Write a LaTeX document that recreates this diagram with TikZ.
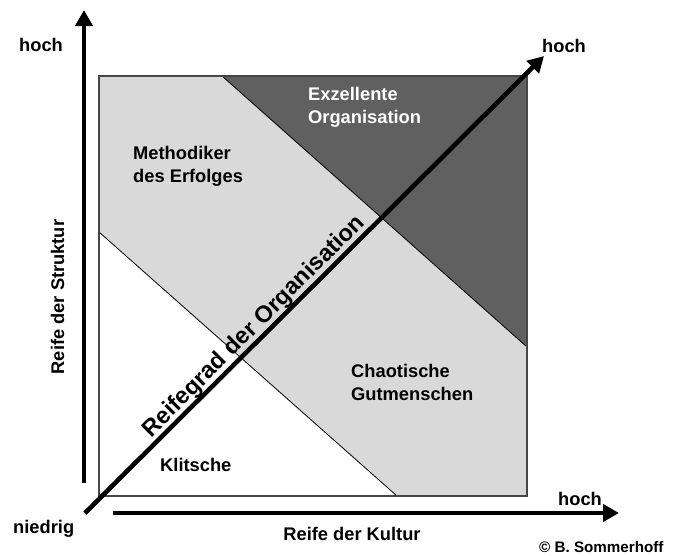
\documentclass[tikz,border=0pt]{standalone}
\usepackage{fontspec}
\setmainfont{Liberation Sans}
\usetikzlibrary{arrows.meta}
\definecolor{lightg}{RGB}{217,217,217}
\definecolor{darkg}{RGB}{96,96,96}
\definecolor{borderg}{RGB}{70,70,70}
\begin{document}
\begin{tikzpicture}[x=1pt,y=-1pt,
  axisarrow/.style={line width=4.6pt,-{Triangle[length=16pt,width=17pt]}},
  divline/.style={line width=0.8pt,black},
  frameline/.style={line width=1.3pt,borderg},
  lbl/.style={font=\fontsize{18.3}{23}\selectfont\bfseries,inner sep=0pt},
  multilbl/.style={lbl,align=left,anchor=north west},
  biglbl/.style={font=\fontsize{23.5}{28}\selectfont\bfseries,inner sep=0pt},
  copylbl/.style={font=\fontsize{15.2}{18}\selectfont\bfseries,inner sep=0pt}]
\fill[white] (0,0) rectangle (675,555);
\useasboundingbox (0,0) rectangle (675,555);
% square and regions
\coordinate (sqNW) at (99,76);
\coordinate (sqNE) at (527,76);
\coordinate (sqSE) at (527,496);
\coordinate (sqSW) at (99,496);
\coordinate (dkT) at (222,76);
\coordinate (dkR) at (527,347);
\coordinate (wtL) at (99,232);
\coordinate (wtB) at (397,496);
\fill[lightg] (sqNW) rectangle (sqSE);
\fill[darkg] (dkT) -- (sqNE) -- (dkR) -- cycle;
\fill[white] (wtL) -- (sqSW) -- (wtB) -- cycle;
\draw[divline] (dkT) -- (dkR);
\draw[divline] (wtL) -- (wtB);
\draw[frameline] (sqNW) rectangle (sqSE);
% region labels
\node[multilbl,text=white] (exz) at (308,86.6) {Exzellente\\Organisation};
\node[multilbl] (meth) at (133,145.6) {Methodiker\\des Erfolges};
\node[multilbl] (chao) at (351,363.6) {Chaotische\\Gutmenschen};
\node[lbl,anchor=base west] (klit) at (160,471) {Klitsche};
% axes
\coordinate (vS) at (84,483);
\coordinate (vE) at (84,10);
\coordinate (hS) at (113,513);
\coordinate (hE) at (619,513);
\coordinate (dS) at (85,513);
\coordinate (dE) at (544,56);
\draw[axisarrow] (vS) -- (vE);
\draw[axisarrow] (hS) -- (hE);
\draw[axisarrow] (dS) -- (dE);
% axis labels
\node[lbl,anchor=base west] (hochTL) at (19,51) {hoch};
\node[lbl,anchor=base west] (hochTR) at (542,52) {hoch};
\node[lbl,anchor=base west] (hochBR) at (558,505) {hoch};
\node[lbl,anchor=base west] (niedrig) at (13,533) {niedrig};
\node[lbl,anchor=base] (kultur) at (352,540) {Reife der Kultur};
\node[lbl,anchor=base,rotate=90] (struktur) at (64,297) {Reife der Struktur};
\node[biglbl,anchor=base,rotate=45] (reifegrad) at (258.6,331) {Reifegrad der Organisation};
\node[copylbl,anchor=base west] (copy) at (539,552) {© B. Sommerhoff};
\end{tikzpicture}
\end{document}
